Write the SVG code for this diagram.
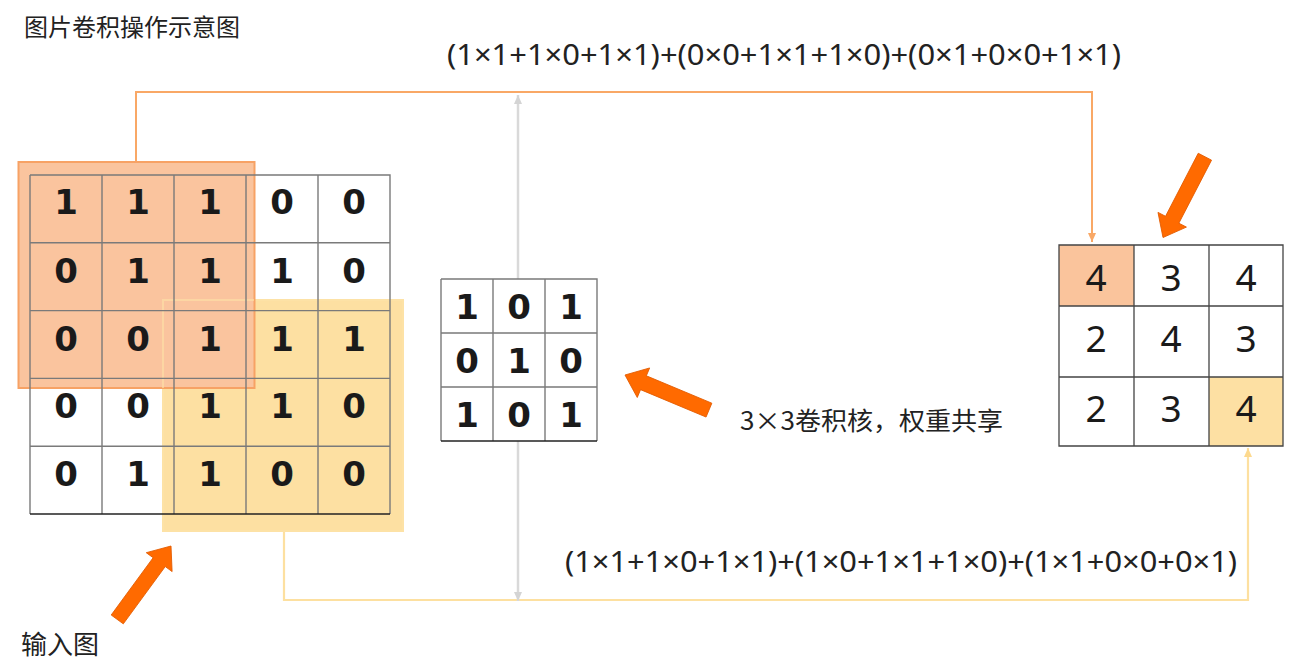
<svg xmlns="http://www.w3.org/2000/svg" xmlns:xlink="http://www.w3.org/1999/xlink" width="1291" height="669" viewBox="0 0 1291 669">
<style>
.cjk{font-family:"Noto Sans CJK SC","Noto Sans",sans-serif;fill:#222}
.fx{font-family:"Noto Sans","Noto Sans CJK SC",sans-serif;font-size:28.5px;fill:#222}
.bd{font-family:"DejaVu Sans",sans-serif;font-weight:bold;font-size:34px;fill:#1a1a1a;text-anchor:middle}
.od{font-family:"Noto Sans",sans-serif;font-size:37px;fill:#1a1a1a;text-anchor:middle}
.gl{stroke:#7a7a7a;stroke-width:1.4;fill:none}
.blk{fill:#ff6a00;stroke:#e35b00;stroke-width:0.8}
</style>
<defs>
<polygon id="blk" points="-91,-7.5 -20,-7.5 -20,-16 0,0 -20,16 -20,7.5 -91,7.5"/>
<marker id="mo" markerUnits="userSpaceOnUse" markerWidth="10" markerHeight="10" refX="9" refY="5" orient="auto"><path d="M0,1 L9,5 L0,9 z" fill="#f9a866"/></marker>
<marker id="my" markerUnits="userSpaceOnUse" markerWidth="10" markerHeight="10" refX="9" refY="5" orient="auto"><path d="M0,1 L9,5 L0,9 z" fill="#fdd98e"/></marker>
<marker id="mg" markerUnits="userSpaceOnUse" markerWidth="10" markerHeight="10" refX="9" refY="5" orient="auto-start-reverse"><path d="M0,1 L9,5 L0,9 z" fill="#d4d4d4"/></marker>
</defs>
<rect width="1291" height="669" fill="#ffffff"/>

<text class="cjk" x="24" y="36" font-size="24">图片卷积操作示意图</text>

<g id="connectors" fill="none">
<path d="M136,162 V92 H1092 V242" stroke="#f9a866" stroke-width="2" marker-end="url(#mo)"/>
<path d="M284,531 V600 H1248 V448" stroke="#fde0a0" stroke-width="2.2" marker-end="url(#my)"/>
<path d="M518,601 V95" stroke="#d9d9d9" stroke-width="2.5" marker-start="url(#mg)" marker-end="url(#mg)"/>
</g>

<g id="window-bottom">
<rect x="163" y="300" width="240" height="231" fill="#fde0a2" stroke="#fde2a6" stroke-width="2"/>
</g>
<g id="window-top">
<rect x="18.5" y="162" width="236" height="226" fill="#fac49e" stroke="#f7a265" stroke-width="2"/>
<path d="M163,388 V300 H254" fill="none" stroke="#fde2a6" stroke-width="2" stroke-opacity="0.6"/>
</g>

<g id="input-grid">
<path class="gl" d="M30,175 H390 V514 M30,175 V514 M102,175 V514 M174,175 V514 M246,175 V514 M318,175 V514 M30,242.8 H390 M30,310.6 H390 M30,378.4 H390 M30,446.2 H390"/>
<path d="M30,514 H390" stroke="#222" stroke-width="1.4"/>
<g class="bd">
<text x="66" y="214">1</text><text x="138" y="214">1</text><text x="210" y="214">1</text><text x="282" y="214">0</text><text x="354" y="214">0</text>
<text x="66" y="282.5">0</text><text x="138" y="282.5">1</text><text x="210" y="282.5">1</text><text x="282" y="282.5">1</text><text x="354" y="282.5">0</text>
<text x="66" y="350.5">0</text><text x="138" y="350.5">0</text><text x="210" y="350.5">1</text><text x="282" y="350.5">1</text><text x="354" y="350.5">1</text>
<text x="66" y="418">0</text><text x="138" y="418">0</text><text x="210" y="418">1</text><text x="282" y="418">1</text><text x="354" y="418">0</text>
<text x="66" y="486">0</text><text x="138" y="486">1</text><text x="210" y="486">1</text><text x="282" y="486">0</text><text x="354" y="486">0</text>
</g>
</g>

<g id="kernel">
<rect x="441" y="279" width="156" height="162" fill="#ffffff"/>
<path class="gl" d="M441,279 H597 V441 M441,279 V441 M493,279 V441 M545,279 V441 M441,333 H597 M441,387 H597"/>
<path d="M441,441 H597" stroke="#222" stroke-width="1.4"/>
<g class="bd">
<text x="467" y="319">1</text><text x="519" y="319">0</text><text x="571" y="319">1</text>
<text x="467" y="373">0</text><text x="519" y="373">1</text><text x="571" y="373">0</text>
<text x="467" y="427">1</text><text x="519" y="427">0</text><text x="571" y="427">1</text>
</g>
</g>

<g id="output-grid">
<rect x="1059" y="245" width="224" height="201" fill="#ffffff"/>
<rect x="1059" y="245" width="75" height="61" fill="#fac49c"/>
<rect x="1209" y="377" width="74" height="69" fill="#fde0a3"/>
<path d="M1059,245 H1283 V446 H1059 Z M1134,245 V446 M1209,245 V446 M1059,306 H1283 M1059,377 H1283" stroke="#444" stroke-width="1.3" fill="none"/>
<g class="od">
<text x="1096" y="291">4</text><text x="1171" y="291">3</text><text x="1246" y="291">4</text>
<text x="1096" y="352">2</text><text x="1171" y="352">4</text><text x="1246" y="352">3</text>
<text x="1096" y="422">2</text><text x="1171" y="422">3</text><text x="1246" y="422">4</text>
</g>
</g>

<g id="arrows">
<use xlink:href="#blk" class="blk" transform="translate(1163,237.5) rotate(117.4)"/>
<use xlink:href="#blk" class="blk" transform="translate(625,375) rotate(202.7)"/>
<use xlink:href="#blk" class="blk" transform="translate(171,546) rotate(-53.8)"/>
</g>

<g id="labels">
<text class="fx" x="447" y="65" textLength="674" lengthAdjust="spacingAndGlyphs">(1×1+1×0+1×1)+(0×0+1×1+1×0)+(0×1+0×0+1×1)</text>
<text class="fx" x="565" y="572" textLength="672" lengthAdjust="spacingAndGlyphs">(1×1+1×0+1×1)+(1×0+1×1+1×0)+(1×1+0×0+0×1)</text>
<text class="cjk" x="740" y="430" font-size="25" textLength="263" lengthAdjust="spacingAndGlyphs">3×3卷积核，权重共享</text>
<text class="cjk" x="21" y="654" font-size="26">输入图</text>
</g>
</svg>
